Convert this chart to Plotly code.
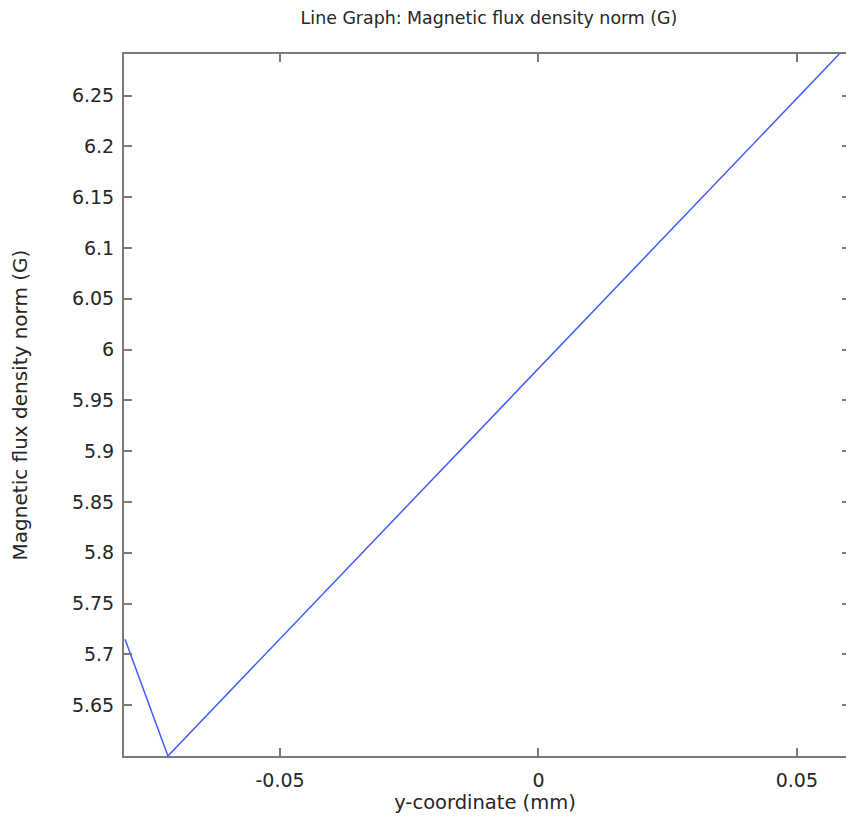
import plotly.graph_objects as go

# Data
y_coord_mm = [-0.08, -0.0717, 0.0582]
b_norm_G = [5.715, 5.600, 6.291]

x_tickvals = [-0.05, 0, 0.05]
x_ticktext = ["-0.05", "0", "0.05"]
y_tickvals = [5.65, 5.7, 5.75, 5.8, 5.85, 5.9, 5.95, 6.0, 6.05, 6.1, 6.15, 6.2, 6.25]
y_ticktext = ["5.65", "5.7", "5.75", "5.8", "5.85", "5.9", "5.95", "6", "6.05", "6.1", "6.15", "6.2", "6.25"]

x_range = [-0.0802, 0.0595]
y_range = [5.6, 6.291]

FONT = "DejaVu Sans"
AXIS_COLOR = "#7a7a7a"
TEXT_COLOR = "#262626"

# page has an 8px body margin on every side, so the figure is sized to fit
# the 854x822 window without scrolling
W, H = 838, 806

fig = go.Figure()
fig.add_trace(go.Scatter(
    x=y_coord_mm, y=b_norm_G, mode="lines",
    line=dict(color="#3d5cff", width=1.5),
    showlegend=False, hoverinfo="skip",
))
# invisible copy on the right-hand mirror axis (for right-side ticks)
fig.add_trace(go.Scatter(
    x=y_coord_mm, y=b_norm_G, mode="lines", yaxis="y2",
    line=dict(color="rgba(0,0,0,0)", width=0),
    showlegend=False, hoverinfo="skip",
))

fig.update_layout(
    width=W, height=H,
    margin=dict(l=116, r=0, t=46, b=58),
    paper_bgcolor="white", plot_bgcolor="white",
    font=dict(family=FONT, size=19, color=TEXT_COLOR),
    title=dict(
        text="Line Graph: Magnetic flux density norm (G)",
        x=(489 - 8) / W, xref="container", xanchor="center",
        y=1 - 10 / H, yref="container", yanchor="middle",
        font=dict(family=FONT, size=17.4, color=TEXT_COLOR),
    ),
    xaxis=dict(
        range=x_range, tickvals=x_tickvals, ticktext=x_ticktext,
        showgrid=False, zeroline=False,
        showline=True, linecolor=AXIS_COLOR, linewidth=2, mirror="ticks",
        ticks="inside", ticklen=8, tickwidth=2, tickcolor=AXIS_COLOR,
        ticklabelstandoff=6,
        tickfont=dict(family=FONT, size=19, color=TEXT_COLOR),
        title=dict(text="y-coordinate (mm)", standoff=3,
                   font=dict(family=FONT, size=19.5, color=TEXT_COLOR)),
    ),
    yaxis=dict(
        range=y_range, tickvals=y_tickvals, ticktext=y_ticktext,
        showgrid=False, zeroline=False,
        showline=True, linecolor=AXIS_COLOR, linewidth=2, mirror=False,
        ticks="inside", ticklen=8, tickwidth=2, tickcolor=AXIS_COLOR,
        ticklabelstandoff=4,
        tickfont=dict(family=FONT, size=19, color=TEXT_COLOR),
        title=dict(text="Magnetic flux density norm (G)", standoff=40,
                   font=dict(family=FONT, size=20, color=TEXT_COLOR)),
    ),
    yaxis2=dict(
        range=y_range, tickvals=y_tickvals, overlaying="y", side="right",
        anchor="x", showgrid=False, zeroline=False, showline=False,
        showticklabels=False,
        ticks="inside", ticklen=4, tickwidth=2, tickcolor=AXIS_COLOR,
    ),
)

fig.write_html("out.html")
